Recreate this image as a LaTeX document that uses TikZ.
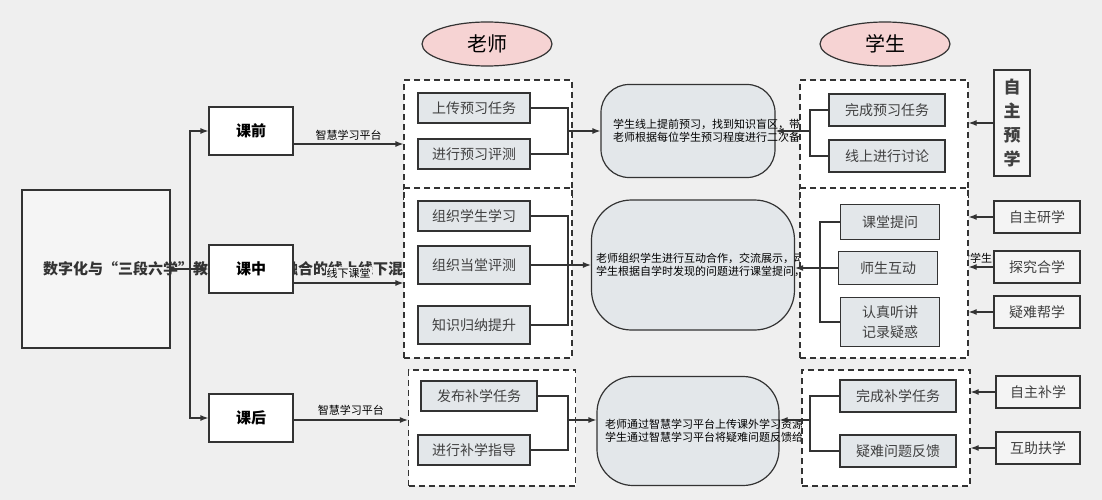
\documentclass[tikz,border=0pt]{standalone}
\usepackage{fontspec}
\setmainfont{Noto Sans CJK SC}
\usetikzlibrary{arrows.meta,positioning,shapes.geometric}
\definecolor{bgc}{HTML}{EFEFEF}
\definecolor{itemc}{HTML}{E3E7EA}
\definecolor{pinkc}{HTML}{F6D3D3}
\definecolor{linec}{HTML}{333333}

\begin{document}
\begin{tikzpicture}[x=1pt,y=-1pt,
box/.style={draw=linec, line width=1.2pt, fill=white, inner sep=0pt},
item/.style={draw=linec, line width=1.2pt, fill=itemc, inner sep=0pt, minimum width=112pt, minimum height=30pt, font=\fontsize{14}{16}\selectfont, text=black!75},
side/.style={draw=linec, line width=1.2pt, fill=bgc!70!white, inner sep=0pt, minimum width=86pt, minimum height=32pt, font=\fontsize{14}{16}\selectfont, text=black!75},
group/.style={draw=linec, line width=1.2pt, dash pattern=on 6pt off 4pt, fill=white},
desc/.style={draw=linec, line width=1.2pt, fill=itemc, rounded corners=28pt, inner sep=3pt, align=left, font=\fontsize{11}{13}\selectfont},
platform/.style={font=\fontsize{11}{13}\selectfont, fill=bgc, inner sep=1pt},
head/.style={draw=linec, line width=1.2pt, fill=pinkc, ellipse, minimum width=130pt, minimum height=44pt, font=\fontsize{20}{22}\selectfont},
arr/.style={draw=linec, line width=1.2pt, -{Latex[length=8pt,width=6pt]}},
link/.style={draw=linec, line width=1.2pt}]

%% background
\fill[bgc] (0,0) rectangle (1102,500);

%% headers
\node[head] (teacher) at (487,44) {老师};
\node[head] (student) at (885,44) {学生};

%% main box and phases
\node[box, fill=bgc!60!white, minimum width=148pt, minimum height=158pt, text width=136pt, align=center, font=\fontsize{15}{21}\bfseries\selectfont, text=black!80] (main) at (96,269) {\hspace*{1em}数字化与“三段六学”教学模式深度融合的线上线下混合式教学模式};
\node[box, minimum width=84pt, minimum height=48pt, font=\fontsize{15}{17}\bfseries\selectfont] (pre) at (251,131) {课前};
\node[box, minimum width=84pt, minimum height=48pt, font=\fontsize{15}{17}\bfseries\selectfont] (mid) at (251,269) {课中};
\node[box, minimum width=84pt, minimum height=48pt, font=\fontsize{15}{17}\bfseries\selectfont] (post) at (251,418) {课后};

\coordinate (trunk) at (190,269);
\draw[link] (main.east) -- (trunk);
\draw[arr] (trunk) -- (mid);
\draw[arr] (trunk) |- (pre);
\draw[arr] (trunk) |- (post);

%% teacher dashed groups
\node[group, minimum width=168pt, minimum height=120pt] (tA) at (488,140) {};
\node[group, minimum width=168pt, minimum height=170pt] (tB) at (488,273) {};
\node[group, minimum width=167pt, minimum height=116pt] (tC) at (492,428) {};

\draw[arr] ([yshift=-13pt]pre.east) -- ([yshift=-13pt]pre.east -| tA.west) node[platform, midway, above=2pt] {智慧学习平台};
\draw[arr] ([yshift=-14pt]mid.east) -- ([yshift=-14pt]mid.east -| tB.west) node[platform, midway, above=3pt] {线下课堂};
\draw[arr] ([yshift=-2pt]post.east) -- ([yshift=-2pt]post.east -| tC.west) node[platform, midway, above=3pt] {智慧学习平台};

\node[item] (upload) at (474,108) {上传预习任务};
\node[item] (pretest) at (474,154) {进行预习评测};
\node[item] (organize) at (474,216) {组织学生学习};
\node[item, minimum height=38pt] (classtest) at (474,265) {组织当堂评测};
\node[item, minimum height=38pt] (summary) at (474,325) {知识归纳提升};
\node[item, minimum width=116pt] (publish) at (479,396) {发布补学任务};
\node[item] (guide) at (474,450) {进行补学指导};

%% descriptions
\node[desc, minimum width=174pt, minimum height=93pt, text width=150pt] (rA) at (688,131) {学生线上提前预习，找到知识盲区，带着问题进课堂学习。\\老师根据每位学生预习程度进行二次备课。};
\node[desc, minimum width=203pt, minimum height=130pt, text width=194pt, rounded corners=40pt] (rB) at (693,265) {老师组织学生进行互动合作，交流展示，动手实践，项目任务等学习活动，对学生的问题进行答疑。\\学生根据自学时发现的问题进行课堂提问，学习共同体进行合作探究学习。};
\node[desc, minimum width=182pt, minimum height=109pt, text width=166pt, rounded corners=36pt] (rC) at (688,431) {老师通过智慧学习平台上传课外学习资源，布置补学任务，学生进行补学。\\学生通过智慧学习平台将疑难问题反馈给老师，老师进行教学反思并调整。};

\coordinate (jA) at (568,131);
\coordinate (jB) at (568,265);
\coordinate (jC) at (568,420);
\draw[link] (upload.east) -| (jA);
\draw[link] (pretest.east) -| (jA);
\draw[arr] (jA) -- (rA);
\draw[link] (organize.east) -| (jB);
\draw[link] (classtest.east) -- (jB);
\draw[link] (summary.east) -| (jB);
\draw[arr] (jB) -- (rB);
\draw[link] (publish.east) -| (jC);
\draw[link] (guide.east) -| (jC);
\draw[arr] (jC) -- (rC.west |- jC);

%% student dashed groups
\node[group, minimum width=168pt, minimum height=120pt] (sA) at (884,140) {};
\node[group, minimum width=168pt, minimum height=170pt] (sB) at (884,273) {};
\node[group, minimum width=168pt, minimum height=116pt] (sC) at (886,428) {};

\node[item, minimum width=116pt, minimum height=32pt] (finish) at (887,110) {完成预习任务};
\node[item, minimum width=116pt, minimum height=32pt] (discuss) at (887,156) {线上进行讨论};
\node[item, minimum width=99pt, minimum height=35pt] (ask) at (890,222) {课堂提问};
\node[item, minimum width=99pt, minimum height=33pt] (interact) at (888,268) {师生互动};
\node[item, minimum width=99pt, minimum height=49pt, align=center, font=\fontsize{14}{20}\selectfont] (listen) at (890,322) {认真听讲\\记录疑惑};
\node[item, minimum width=116pt, minimum height=32pt] (supp) at (898,396) {完成补学任务};
\node[item, minimum width=116pt, minimum height=32pt] (feedback) at (898,451) {疑难问题反馈};

\coordinate (kA) at (810,131);
\coordinate (kB) at (820,268);
\coordinate (kC) at (810,420);
\draw[link] (finish.west) -| (kA);
\draw[link] (discuss.west) -| (kA);
\draw[arr] (kA) -- (rA);
\draw[link] (ask.west) -| (kB);
\draw[link] (interact.west) -- (kB);
\draw[link] (listen.west) -| (kB);
\draw[arr] (kB) -- (rB.east |- kB);
\draw[link] (supp.west) -| (kC);
\draw[link] (feedback.west) -| (kC);
\draw[arr] (kC) -- (rC.east |- kC);

%% learning modes
\node[side, minimum width=36pt, minimum height=106pt, align=center, font=\fontsize{17}{24}\bfseries\selectfont] (selfpre) at (1012,123) {自\\主\\预\\学};
\node[side] (selfstudy) at (1037,217) {自主研学};
\node[side] (explore) at (1037,267) {探究合学};
\node[side] (hardhelp) at (1037,312) {疑难帮学};
\node[side, minimum width=84pt] (selfsupp) at (1038,392) {自主补学};
\node[side, minimum width=84pt] (mutual) at (1038,448) {互助扶学};

\draw[arr] (selfpre) -- (selfpre -| sA.east);
\draw[arr] (selfstudy) -- (selfstudy -| sB.east);
\draw[arr] (explore) -- (explore -| sB.east);
\draw[arr] (hardhelp) -- (hardhelp -| sB.east);
\draw[arr] (selfsupp) -- (selfsupp -| sC.east);
\draw[arr] (mutual) -- (mutual -| sC.east);

\end{tikzpicture}
\end{document}
